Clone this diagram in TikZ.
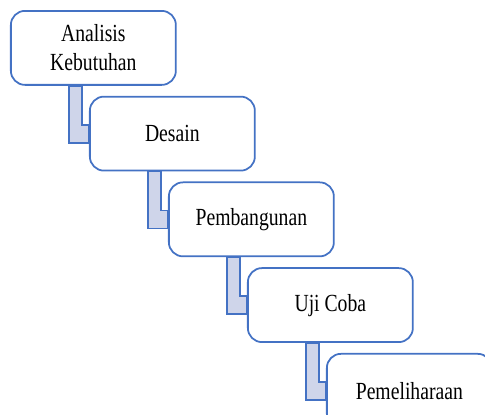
\documentclass[tikz,border=0pt]{standalone}
\usepackage{fontspec}
\setmainfont{Liberation Serif}[FakeStretch=0.8]
\usepackage{xcolor}
\usetikzlibrary{calc, positioning}
\definecolor{stepblue}{RGB}{68,114,196}
\definecolor{elbowfill}{RGB}{207,213,234}

\begin{document}
\begin{tikzpicture}[
        x=0.02cm, y=-0.02cm,
        % Style pour les étapes
        stepbox/.style={
            draw=stepblue,
            line width=1pt,
            rounded corners=8pt,
            fill=white,
            minimum width=3.3cm,
            minimum height=1.48cm,
            align=center,
            anchor=north west,
            font=\fontsize{14}{16.5}\selectfont
        },
        % Style pour les coudes
        elbow/.style={
            draw=stepblue,
            line width=1pt,
            fill=elbowfill
        }
    ]
    \useasboundingbox (0,0) rectangle (485,414);
    \clip (0,0) rectangle (485,414);

    % Les étapes
    \node[stepbox] (analisis) at (10,10) {Analisis\\Kebutuhan};
    \node[stepbox] (desain) at ($(analisis.south west)+(79,10)$) {Desain};
    \node[stepbox] (bangun) at ($(desain.south west)+(79,10)$) {Pembangunan};
    \node[stepbox] (uji) at ($(bangun.south west)+(79,10)$) {Uji Coba};
    \node[stepbox] (pelihara) at ($(uji.south west)+(79,10)$) {Pemeliharaan};

    % Coudes entre les étapes
    \draw[elbow] ($(analisis.south west)+(59,0)$) |- ($(desain.north west)+(0,47)$)
        -- ++(0,-18) -| ($(analisis.south west)+(72,0)$) -- cycle;
    \draw[elbow] ($(desain.south west)+(59,0)$) |- ($(bangun.north west)+(0,47)$)
        -- ++(0,-18) -| ($(desain.south west)+(72,0)$) -- cycle;
    \draw[elbow] ($(bangun.south west)+(59,0)$) |- ($(uji.north west)+(0,47)$)
        -- ++(0,-18) -| ($(bangun.south west)+(72,0)$) -- cycle;
    \draw[elbow] ($(uji.south west)+(59,0)$) |- ($(pelihara.north west)+(0,47)$)
        -- ++(0,-18) -| ($(uji.south west)+(72,0)$) -- cycle;

\end{tikzpicture}
\end{document}
